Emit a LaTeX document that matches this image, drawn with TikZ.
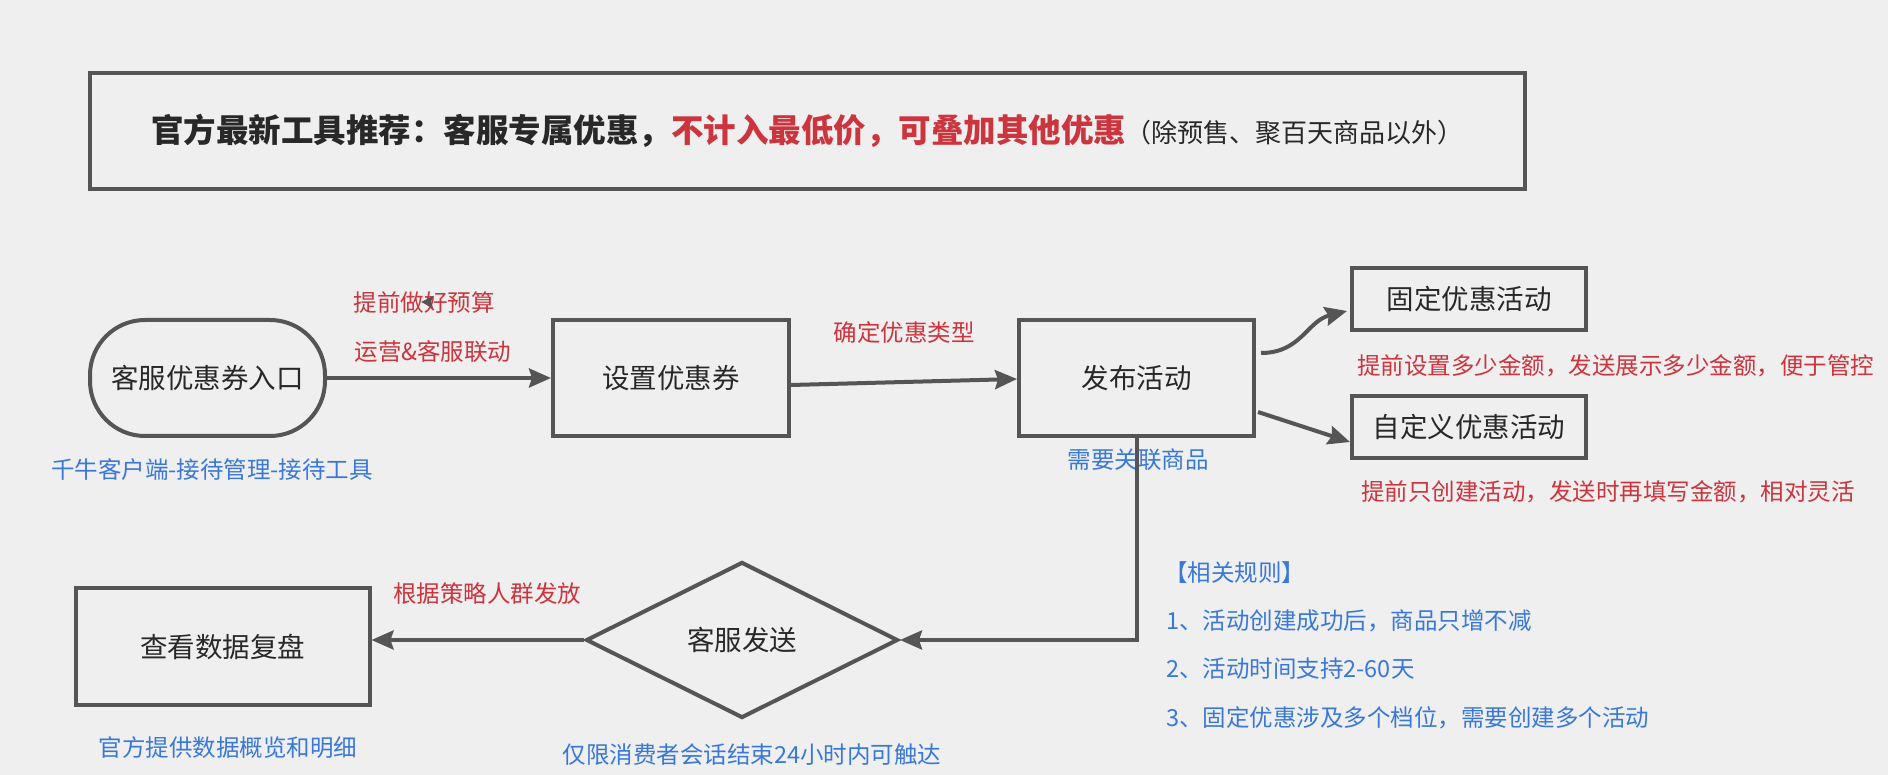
\documentclass[tikz,border=0pt]{standalone}
\usepackage{fontspec}
\setmainfont{Noto Sans CJK SC}
\usetikzlibrary{arrows.meta,shapes.geometric}
\definecolor{bgc}{RGB}{239,239,239}
\definecolor{linec}{RGB}{85,85,85}
\definecolor{txtc}{RGB}{40,40,40}
\definecolor{redc}{RGB}{204,52,62}
\definecolor{bluec}{RGB}{58,120,216}
\tikzset{
  box/.style={draw=linec, line width=4pt, inner sep=0pt, text=txtc,
    font=\fontsize{27.5}{32}\selectfont},
  redlbl/.style={text=redc, inner sep=0pt, font=\fontsize{23.5}{28}\selectfont},
  bluelbl/.style={text=bluec, inner sep=0pt, font=\fontsize{23.5}{28}\selectfont},
  conn/.style={draw=linec, line width=4pt, -{Stealth[length=22pt,width=19pt,inset=3pt]}},
  plain/.style={draw=linec, line width=4pt}
}
\begin{document}
\begin{tikzpicture}[x=1pt,y=-1pt]
\fill[bgc] (0,0) rectangle (1888,775);
\useasboundingbox (0,0) rectangle (1888,775);

% title
\node[box, minimum width=1435pt, minimum height=116pt] (title) at (807.5,131)
  {{\fontsize{32.5}{38}\selectfont\bfseries 官方最新工具推荐：客服专属优惠，}{\fontsize{32.5}{38}\selectfont\bfseries\color{redc}不计入最低价，可叠加其他优惠}{\fontsize{26}{30}\selectfont（除预售、聚百天商品以外）}};

% main nodes
\node[box, rounded corners=55pt, minimum width=235pt, minimum height=116pt] (entry) at (207.5,378) {客服优惠券入口};
\node[box, minimum width=236pt, minimum height=116pt] (setup) at (671,378) {设置优惠券};
\node[box, minimum width=235pt, minimum height=116pt] (publish) at (1136.5,378) {发布活动};
\node[box, minimum width=234pt, minimum height=62pt] (fixed) at (1469,299) {固定优惠活动};
\node[box, minimum width=234pt, minimum height=62pt] (custom) at (1469,427) {自定义优惠活动};
\node[box, diamond, aspect=2, minimum width=312pt, minimum height=156pt] (send) at (742,640) {客服发送};
\node[box, minimum width=294pt, minimum height=117pt] (review) at (222.5,646.5) {查看数据复盘};

% labels
\node[redlbl] (lb1) at (424,303) {提前做好预算};
\node[redlbl] (lb2) at (433,352) {运营\&客服联动};
\node[redlbl] (lb3) at (904,333) {确定优惠类型};
\node[redlbl, anchor=west] (lb4) at (1357,366) {提前设置多少金额，发送展示多少金额，便于管控};
\node[redlbl, anchor=west] (lb5) at (1361,492) {提前只创建活动，发送时再填写金额，相对灵活};
\node[redlbl] (lb6) at (487,594) {根据策略人群发放};
\node[bluelbl] (lb7) at (212,470) {千牛客户端-接待管理-接待工具};
\node[bluelbl] (lb8) at (1138,460) {需要关联商品};
\node[bluelbl] (lb9) at (228,748) {官方提供数据概览和明细};
\node[bluelbl] (lb10) at (752,755) {仅限消费者会话结束24小时内可触达};
\node[bluelbl, anchor=west] (r0) at (1164,573) {【相关规则】};
\node[bluelbl, anchor=west] (r1) at (1166,621) {1、活动创建成功后，商品只增不减};
\node[bluelbl, anchor=west] (r2) at (1166,669) {2、活动时间支持2-60天};
\node[bluelbl, anchor=west] (r3) at (1166,718) {3、固定优惠涉及多个档位，需要创建多个活动};

% stray small arrowhead
\fill[linec] (421,302) -- (433,296) -- (431,302) -- (433,308) -- cycle;

% connectors
\draw[conn] (entry.east) -- (setup.west);
\draw[conn] ([yshift=-7pt]setup.east) -- ([yshift=-1pt]publish.west);
\draw[conn] ([xshift=5pt,yshift=25pt]publish.east) .. controls +(40,0) and +(-40,10) .. ([xshift=-3pt,yshift=-12pt]fixed.west);
\draw[conn] ([xshift=2pt,yshift=-34pt]publish.east) -- ([yshift=-15pt]custom.west);
\draw[conn] (publish.south) |- (send.east);
\draw[conn] (send.west) -- ([yshift=6.5pt]review.east);
\end{tikzpicture}
\end{document}
